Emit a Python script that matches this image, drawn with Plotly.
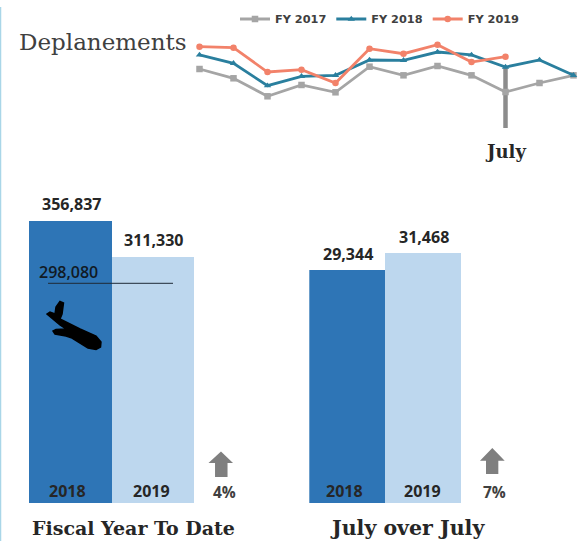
import plotly.graph_objects as go

W, H = 584, 541

months = ["Oct", "Nov", "Dec", "Jan", "Feb", "Mar", "Apr", "May", "Jun", "Jul", "Aug", "Sep"]
fy2017 = [28930, 27020, 23310, 25640, 24130, 29410, 27630, 29550, 27630, 24190, 26050, 27630]
fy2018 = [31820, 30110, 25490, 27430, 27630, 30790, 30720, 32430, 31820, 29344, 30790, 27630]
fy2019 = [33530, 33320, 28310, 28790, 26050, 33110, 32080, 33940, 30370, 31468]
july_drop_to = 16780

bar_years = ["2018", "2019"]
ytd_values = [356837, 311330]
july_values = [29344, 31468]
ytd_target_label = "298,080"
ytd_change = "4%"
july_change = "7%"

DARK = "#2E75B6"
LIGHT = "#BDD7EE"
GREY = "#A5A5A5"
TEAL = "#2A7F9E"
ORANGE = "#F2826A"
INK = "#262626"
SANS = "Open Sans"
SERIF = "DejaVu Serif"


def px(x):
    return x / W


def py(y):
    return 1 - y / H


def path(points):
    return "M" + " L".join(f"{px(x):.4f},{py(y):.4f}" for x, y in points) + " Z"


fig = go.Figure()

for name, vals, color, sym in [
    ("FY 2017", fy2017, GREY, "square"),
    ("FY 2018", fy2018, TEAL, "triangle-up"),
    ("FY 2019", fy2019, ORANGE, "circle"),
]:
    fig.add_trace(go.Scatter(
        x=months[:len(vals)], y=vals, name=name, mode="lines+markers",
        line=dict(color=color, width=2.8), marker=dict(symbol=sym, size=6.5, color=color),
        xaxis="x", yaxis="y", cliponaxis=False,
    ))

fig.add_trace(go.Bar(x=bar_years, y=ytd_values, marker=dict(color=[DARK, LIGHT], line_width=0),
                     width=1, showlegend=False, xaxis="x2", yaxis="y2"))
fig.add_trace(go.Bar(x=bar_years, y=july_values, marker=dict(color=[DARK, LIGHT], line_width=0),
                     width=1, showlegend=False, xaxis="x3", yaxis="y3"))

annotations = []


def note(text, x, y, size=16, font=SANS, bold=True, color=INK, weight=None, **kw):
    kw.setdefault("xanchor", "center")
    kw.setdefault("yanchor", "middle")
    f = dict(family=font, size=size, color=color)
    if weight:
        f["weight"] = weight
    annotations.append(dict(
        text=f"<b>{text}</b>" if bold else text, x=x, y=y, showarrow=False,
        xref=kw.pop("xref", "paper"), yref=kw.pop("yref", "paper"), font=f, **kw))


for xr, yr, values in [("x2", "y2", ytd_values), ("x3", "y3", july_values)]:
    for i, (year, v) in enumerate(zip(bar_years, values)):
        note(f"{v:,}", i, v, xref=xr, yref=yr, yanchor="bottom", yshift=3.5, xshift=1)
        note(year, i, 0, xref=xr, yref=yr, yanchor="bottom", yshift=-1, xshift=-3 if i == 0 else -1)

note("Deplanements", px(17), py(42), size=23, font=SERIF, bold=False, color="#404040", xanchor="left")
note("July", px(505), py(151), size=18, font=SERIF)
note("Fiscal Year To Date", px(133), py(528), size=19, font=SERIF)
note("July over July", px(407), py(528), size=20.5, font=SERIF)
note(ytd_target_label, px(68), py(272), bold=False, size=16, weight=600, color="#111a24")
note(ytd_change, px(224.5), py(492), size=15.5, color="#404040")
note(july_change, px(494), py(491.5), size=15.5, color="#404040")

arrow_left = [(221, 451.5), (233, 463), (227.5, 463), (227.5, 477), (215, 477), (215, 463), (208.5, 463)]
arrow_right = [(492.3, 448), (504.7, 460.7), (498.3, 460.7), (498.3, 474), (486, 474), (486, 460.7), (480, 460.7)]
plane = [(60, 301.5), (63.5, 303), (62, 314), (60, 319), (80, 329), (96, 336), (101, 342), (100.5, 347),
         (96, 349.5), (88, 348), (72, 338), (66, 336), (55, 334), (53, 331), (56, 329.5), (66, 329),
         (60, 325), (47, 314), (50, 312), (55, 314), (56, 307)]

shapes = [
    dict(type="line", xref="paper", yref="paper", x0=px(0.5), x1=px(0.5), y0=py(7), y1=py(541),
         line=dict(color="#A9D6E8", width=1.5)),
    dict(type="line", xref="x", yref="y", x0="Jul", x1="Jul", y0=july_drop_to, y1=fy2018[9],
         line=dict(color="#8C8C8C", width=4.5), layer="below"),
    dict(type="line", xref="paper", yref="paper", x0=px(48), x1=px(173), y0=py(283.3), y1=py(283.3),
         line=dict(color="#1F2A36", width=1)),
    dict(type="path", xref="paper", yref="paper", path=path(arrow_left), fillcolor="#7F7F7F", line_width=0),
    dict(type="path", xref="paper", yref="paper", path=path(arrow_right), fillcolor="#7F7F7F", line_width=0),
    dict(type="path", xref="paper", yref="paper", path=path(plane), fillcolor="#000000",
         line=dict(color="#000000", width=1.5)),
]

hidden = dict(visible=False, fixedrange=True)
fig.update_layout(
    width=W, height=H, margin=dict(l=0, r=0, t=0, b=0, autoexpand=False), autosize=False,
    paper_bgcolor="white", plot_bgcolor="rgba(0,0,0,0)", bargap=0,
    xaxis=dict(hidden, domain=[px(190), px(580)], type="category", categoryorder="array",
               categoryarray=months, range=[(190 - 199.5) / 34, (580 - 199.5) / 34], anchor="y"),
    yaxis=dict(hidden, domain=[py(130), py(40)], range=[16366, 34906], anchor="x"),
    xaxis2=dict(hidden, domain=[px(29), px(194)], type="category", range=[-0.5, 1.5], anchor="y2"),
    yaxis2=dict(hidden, domain=[py(503), py(200)], range=[0, 303 / 0.000791], anchor="x2"),
    xaxis3=dict(hidden, domain=[px(309.3), px(461.5)], type="category", range=[-0.5, 1.5], anchor="y3"),
    yaxis3=dict(hidden, domain=[py(503), py(230)], range=[0, 273 / (233 / 29344)], anchor="x3"),
    legend=dict(orientation="h", x=px(235), xanchor="left",
                y=py(19), yanchor="middle", itemwidth=30, traceorder="normal",
                font=dict(family="DejaVu Sans", size=11.3, color="#404040", weight="bold"),
                bgcolor="rgba(0,0,0,0)", borderwidth=0),
    annotations=annotations, shapes=shapes, hovermode=False,
)

fig.write_html("out.html", config={"displayModeBar": False},
               post_script="document.body.style.margin='0';")
